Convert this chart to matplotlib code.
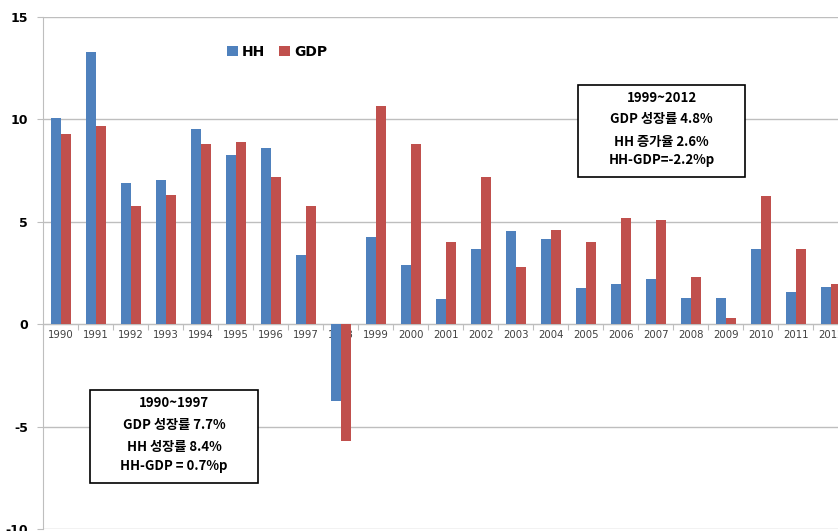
import matplotlib
matplotlib.use("Agg")
import matplotlib.pyplot as plt
import matplotlib.patches as mpatches
import numpy as np

plt.rcParams['font.family'] = ['Noto Sans CJK KR', 'DejaVu Sans']

# --- 데이터 ---
years = [str(y) for y in range(1990, 2013)]
hh = [10.04, 13.29, 6.87, 7.03, 9.53, 8.23, 8.60, 3.37, -3.76, 4.23, 2.86,
      1.22, 3.68, 4.54, 4.13, 1.77, 1.94, 2.18, 1.29, 1.25, 3.64, 1.56, 1.81]
gdp = [9.26, 9.66, 5.76, 6.28, 8.77, 8.88, 7.16, 5.76, -5.73, 10.65, 8.77,
       3.99, 7.16, 2.80, 4.57, 3.99, 5.17, 5.08, 2.28, 0.28, 6.26, 3.68, 1.97]
y_ticks = [-10, -5, 0, 5, 10, 15]

box_early = ["1990~1997", "GDP 성장률 7.7%", "HH 성장률 8.4%", "HH-GDP = 0.7%p"]
box_late = ["1999~2012", "GDP 성장률 4.8%", "HH 증가율 2.6%", "HH-GDP=-2.2%p"]

blue = '#4F81BD'
red = '#C0504D'
grid_c = '#BEBEBE'

W, H = 838, 531
fig = plt.figure(figsize=(W / 100, H / 100), dpi=100)
# 오른쪽 끝(2012)은 그림 밖으로 약간 잘림
ax = fig.add_axes([43.3 / W, 2 / H, 23 * 35 / W, 512.3 / H])

x = np.arange(len(years))
bw = 0.28
ax.bar(x - bw / 2, hh, bw, color=blue, label='HH', zorder=3)
ax.bar(x + bw / 2, gdp, bw, color=red, label='GDP', zorder=3)

ax.set_xlim(-0.5, len(years) - 0.5)
ax.set_ylim(-10, 15)
ax.set_yticks(y_ticks)
ax.set_yticklabels([str(v) for v in y_ticks], fontweight='bold', fontsize=9,
                   family='DejaVu Sans')
ax.yaxis.grid(True, color=grid_c, lw=1, zorder=0)
ax.tick_params(axis='y', length=4, color=grid_c, pad=7)

# x축은 0 위치, 눈금은 범주 경계에
for s in ['top', 'right']:
    ax.spines[s].set_visible(False)
ax.spines['left'].set_color(grid_c)
ax.spines['bottom'].set_position(('data', 0))
ax.spines['bottom'].set_color(grid_c)
ax.set_xticks(np.arange(len(years) + 1) - 0.5)
ax.set_xticklabels([])
ax.tick_params(axis='x', which='major', length=4, color=grid_c, direction='out')
ax.set_xticks(x, minor=True)
ax.set_xticklabels(years, minor=True, fontsize=7.3, color='#404040',
                   family='DejaVu Sans')
ax.tick_params(axis='x', which='minor', length=0, pad=4)

fig.legend(loc='center', bbox_to_anchor=(277 / W, 1 - 52 / H), ncol=2,
           frameon=False, handlelength=0.8, handleheight=0.8,
           handletextpad=0.3, columnspacing=1.0,
           prop={'weight': 'bold', 'size': 10, 'family': 'DejaVu Sans'})


def note_box(x0, y0, x1, y1, lines, ys):
    rect = mpatches.Rectangle((x0 / W, 1 - y1 / H), (x1 - x0) / W, (y1 - y0) / H,
                              transform=fig.transFigure, facecolor='white',
                              edgecolor='black', lw=1.2, zorder=5)
    fig.patches.append(rect)
    cx = (x0 + x1) / 2
    for txt, ty in zip(lines, ys):
        fig.text(cx / W, 1 - ty / H, txt, ha='center', va='center',
                 fontsize=9.5, fontweight='bold', zorder=6)


note_box(578, 85, 745, 177, box_late, [98, 119, 142, 160])
note_box(90, 390, 258, 483, box_early, [403, 425, 447, 466])

fig.savefig('out.png', dpi=100)
